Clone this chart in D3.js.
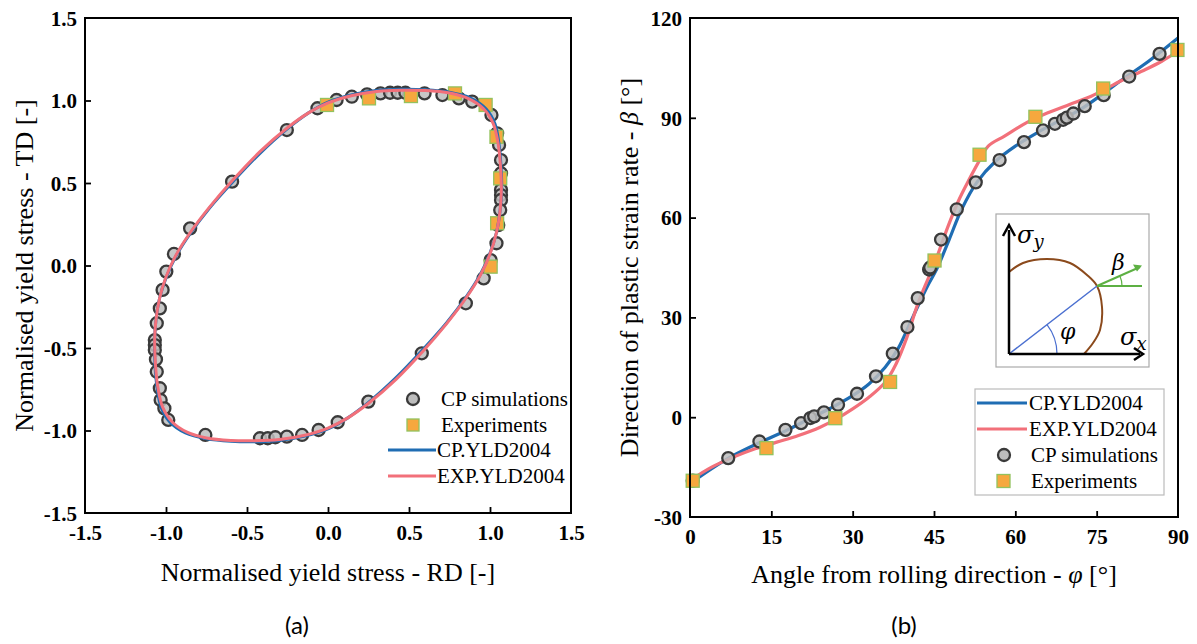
<!DOCTYPE html>
<html><head><meta charset="utf-8">
<script src="https://cdn.jsdelivr.net/npm/d3@7"></script>
<style>body{margin:0;background:#fff}svg{display:block}</style>
</head><body>
<svg id="c" width="1197" height="644"></svg>
<script>
// ---------- Panel (a) data ----------
const aTicks = [-1.5, -1.0, -0.5, 0.0, 0.5, 1.0, 1.5];
const aTickLabels = ["-1.5", "-1.0", "-0.5", "0.0", "0.5", "1.0", "1.5"];
const aCpSimX = [-0.065,0.053,0.147,0.241,0.324,0.383,0.43,0.478,0.596,0.706,0.808,0.89,1.009,1.044,1.056,1.068,1.068,1.068,1.068,1.068,1.063,1.051,1.04,1.004,0.961,0.851,
  -0.254,-0.592,-0.851,-0.951,-0.998,-1.021,-1.038,-1.057,-1.069,-1.069,-1.069,-1.062,-1.057,-1.038,-1.033,-1.01,-0.986,-0.757,-0.42,-0.372,-0.325,-0.254,-0.16,-0.058,0.06,0.249,0.579];
const aCpSimY = [0.953,1.003,1.023,1.037,1.043,1.047,1.047,1.047,1.043,1.033,1.013,0.993,0.912,0.801,0.73,0.639,0.559,0.458,0.427,0.397,0.336,0.245,0.135,0.033,-0.078,-0.229,
  0.821,0.508,0.225,0.07,-0.037,-0.148,-0.26,-0.35,-0.452,-0.482,-0.512,-0.569,-0.644,-0.744,-0.815,-0.866,-0.936,-1.027,-1.047,-1.047,-1.041,-1.037,-1.027,-0.997,-0.95,-0.825,-0.532];
const aExpX = [-0.006,0.253,0.512,0.784,0.973,1.04,1.063,1.044,1.004];
const aExpY = [0.973,1.013,1.027,1.043,0.973,0.78,0.528,0.256,-0.007];
const aCpYldX = [1.072,1.068,1.055,1.03,0.975,0.88,0.75,0.6,0.45,0.3,0.15,0.0,-0.12,-0.25,-0.42,-0.59,-0.73,-0.85,-0.94,-1.0,-1.04,-1.062,-1.07,-1.068,-1.055,-1.03,-0.975,-0.88,-0.75,-0.6,-0.45,-0.3,-0.15,0.0,0.12,0.25,0.42,0.59,0.73,0.85,0.94,1.0,1.04,1.062];
const aCpYldY = [0.45,0.6,0.74,0.86,0.95,1.015,1.05,1.065,1.068,1.06,1.035,0.99,0.925,0.83,0.68,0.505,0.35,0.195,0.055,-0.075,-0.2,-0.33,-0.45,-0.6,-0.74,-0.86,-0.95,-1.015,-1.05,-1.065,-1.068,-1.06,-1.035,-0.99,-0.925,-0.83,-0.68,-0.505,-0.35,-0.195,-0.055,0.075,0.2,0.33];
const aExpYldX = [1.07,1.065,1.05,1.02,0.96,0.87,0.75,0.6,0.45,0.3,0.15,0.0,-0.12,-0.25,-0.42,-0.59,-0.73,-0.85,-0.94,-1.0,-1.04,-1.062,-1.07,-1.065,-1.05,-1.02,-0.96,-0.87,-0.75,-0.6,-0.45,-0.3,-0.15,0.0,0.12,0.25,0.42,0.59,0.73,0.85,0.94,1.0,1.04,1.062];
const aExpYldY = [0.45,0.6,0.74,0.86,0.95,1.01,1.045,1.06,1.062,1.055,1.03,0.985,0.925,0.835,0.69,0.515,0.355,0.2,0.06,-0.07,-0.2,-0.33,-0.45,-0.6,-0.74,-0.86,-0.95,-1.01,-1.045,-1.06,-1.062,-1.055,-1.03,-0.985,-0.925,-0.835,-0.69,-0.515,-0.355,-0.2,-0.06,0.07,0.2,0.33];

// ---------- Panel (b) data ----------
const bXTicks = [0, 15, 30, 45, 60, 75, 90];
const bXTickLabels = ["0", "15", "30", "45", "60", "75", "90"];
const bYTicks = [-30, 0, 30, 60, 90, 120];
const bYTickLabels = ["-30", "0", "30", "60", "90", "120"];
const bCpSimPhi = [0.5,7.05,12.8,17.6,20.5,22.2,22.9,24.7,27.3,30.8,34.3,37.4,40.1,42.0,44.1,44.3,46.3,49.2,52.7,57.1,61.6,65.1,67.3,68.8,69.5,70.7,72.8,76.3,81.0,86.6];
const bCpSimBeta = [-19.1,-12.3,-7.3,-3.8,-1.8,-0.25,0.25,1.45,3.75,7.05,12.3,19.1,27.1,35.8,44.4,45.0,53.4,62.5,70.6,77.3,82.7,86.2,88.2,89.4,90.05,91.3,93.5,96.8,102.4,109.2];
const bExpPhi = [0.5,14.1,26.8,36.9,45.1,53.4,63.7,76.2,89.9];
const bExpBeta = [-19.1,-9.3,-0.3,10.6,47.1,78.9,90.3,98.8,110.4];
const bCpYldPhi = [0,4,8,13,18,22,26,30,33,36,38.5,40.5,42.5,44,45.5,47.8,50.1,52.9,56.4,60,64,68,72,76,80,84,90];
const bCpYldBeta = [-20,-15.5,-11.5,-7.5,-3.8,-0.5,2.8,6.5,10,15,21,28,35,40,44.5,53.4,62.5,70.6,77,81.5,85.5,89,92.5,97,101.8,106.3,114];
const bExpYldPhi = [0,4,8,12,16,20,24,27,30,33,36,38,40,42,44,45.5,47.5,49.5,51.5,53.5,55,58,62,66,70,74,77,80,84,87,90];
const bExpYldBeta = [-19,-15,-12,-9.5,-7.5,-5.5,-3,-0.5,2.5,6,10.5,16,24,34,42,48,57,65,71.5,77.5,81.5,84.5,88.5,91.5,94,96.5,99,101.5,104.5,107,110];

const legendA = ["CP simulations", "Experiments", "CP.YLD2004", "EXP.YLD2004"];
const legendB = ["CP.YLD2004", "EXP.YLD2004", "CP simulations", "Experiments"];

// ---------- styles ----------
const BLUE = "#1f6db3", RED = "#f2707a", SQF = "#f6a83e", SQS = "#93c25e", CF = "#bdbdbd", CS = "#3a3a3a";
const SERIF = "'Liberation Serif','Times New Roman',serif";

const svg = d3.select("#c");

function frame(g, x0, y0, x1, y1) {
  g.append("rect").attr("x", x0).attr("y", y0).attr("width", x1 - x0).attr("height", y1 - y0)
    .attr("fill", "none").attr("stroke", "#000").attr("stroke-width", 2);
}
function styleAxis(sel, isX) {
  sel.attr("font-family", SERIF).attr("font-size", 21).attr("font-weight", "bold");
  sel.select(".domain").remove();
  sel.selectAll(".tick line").attr("stroke", "#000").attr("stroke-width", 1.8);
  sel.selectAll(".tick text").attr("font-family", SERIF).attr("font-weight", "bold")
    .attr("font-size", 21).attr("fill", "#000");
  if (isX) sel.selectAll(".tick text").attr("y", 27).attr("dy", null);
  else sel.selectAll(".tick text").attr("x", -8).attr("dy", "0.35em");
}
function circles(g, xs, ys, x, y) {
  g.append("g").selectAll("circle").data(xs).join("circle")
    .attr("cx", d => x(d)).attr("cy", (d, i) => y(ys[i])).attr("r", 6)
    .attr("fill", CF).attr("fill-opacity", 0.85).attr("stroke", CS).attr("stroke-width", 2.3);
}
function squares(g, xs, ys, x, y) {
  g.append("g").selectAll("rect").data(xs).join("rect")
    .attr("x", d => x(d) - 6.5).attr("y", (d, i) => y(ys[i]) - 6.5).attr("width", 13).attr("height", 13)
    .attr("fill", SQF).attr("stroke", SQS).attr("stroke-width", 1.3);
}

// ================= Panel (a) =================
{
  const L = 85, R = 571, T = 18, B = 513;
  const x = d3.scaleLinear().domain([-1.5, 1.5]).range([L, R]);
  const y = d3.scaleLinear().domain([-1.5, 1.5]).range([B, T]);
  const g = svg.append("g");
  circles(g, aCpSimX, aCpSimY, x, y);
  squares(g, aExpX, aExpY, x, y);
  const lineCp = d3.line().x(d => x(d[0])).y(d => y(d[1])).curve(d3.curveCatmullRomClosed);
  g.append("path").datum(aCpYldX.map((v, i) => [v, aCpYldY[i]])).attr("d", lineCp)
    .attr("fill", "none").attr("stroke", BLUE).attr("stroke-width", 3);
  g.append("path").datum(aExpYldX.map((v, i) => [v, aExpYldY[i]])).attr("d", lineCp)
    .attr("fill", "none").attr("stroke", RED).attr("stroke-width", 3);

  const ax = g.append("g").attr("transform", `translate(0,${B})`)
    .call(d3.axisBottom(x).tickValues(aTicks).tickFormat((d, i) => aTickLabels[i]).tickSizeInner(-6).tickSizeOuter(0));
  styleAxis(ax, true);
  ax.selectAll(".tick").filter((d, i) => i === 0 || i === aTicks.length - 1).select("line").remove();
  const ay = g.append("g").attr("transform", `translate(${L},0)`)
    .call(d3.axisLeft(y).tickValues(aTicks).tickFormat((d, i) => aTickLabels[i]).tickSizeInner(-6).tickSizeOuter(0));
  styleAxis(ay, false);
  ay.selectAll(".tick").filter((d, i) => i === 0 || i === aTicks.length - 1).select("line").remove();
  frame(g, L, T, R, B);

  g.append("text").attr("x", (L + R) / 2).attr("y", 581).attr("text-anchor", "middle")
    .attr("font-family", SERIF).attr("font-size", 26).text("Normalised yield stress - RD [-]");
  g.append("text").attr("transform", `translate(33,${(T + B) / 2}) rotate(-90)`).attr("text-anchor", "middle")
    .attr("font-family", SERIF).attr("font-size", 26).text("Normalised yield stress - TD [-]");

  // legend (no box)
  const lg = g.append("g");
  const rows = [399, 425, 450, 476];
  lg.append("circle").attr("cx", 413).attr("cy", rows[0]).attr("r", 6).attr("fill", CF).attr("stroke", CS).attr("stroke-width", 2.3);
  lg.append("rect").attr("x", 407).attr("y", rows[1] - 6).attr("width", 12).attr("height", 12).attr("fill", SQF).attr("stroke", SQS).attr("stroke-width", 1.3);
  lg.append("line").attr("x1", 388).attr("x2", 436).attr("y1", rows[2]).attr("y2", rows[2]).attr("stroke", BLUE).attr("stroke-width", 3);
  lg.append("line").attr("x1", 388).attr("x2", 436).attr("y1", rows[3]).attr("y2", rows[3]).attr("stroke", RED).attr("stroke-width", 3);
  legendA.forEach((t, i) => {
    lg.append("text").attr("x", i < 2 ? 441 : 437).attr("y", rows[i] + 7).attr("font-family", SERIF)
      .attr("font-size", 21).text(t);
  });
  svg.append("text").attr("x", 297).attr("y", 634).attr("text-anchor", "middle")
    .attr("font-family", "Lato, 'Open Sans', sans-serif").attr("font-size", 24).text("(a)");
}

// ================= Panel (b) =================
{
  const L = 690, R = 1178, T = 18, B = 517;
  const x = d3.scaleLinear().domain([0, 90]).range([L, R]);
  const y = d3.scaleLinear().domain([-30, 120]).range([B, T]);
  const g = svg.append("g");
  const line = d3.line().x(d => x(d[0])).y(d => y(d[1])).curve(d3.curveCatmullRom);
  g.append("path").datum(bCpYldPhi.map((v, i) => [v, bCpYldBeta[i]])).attr("d", line)
    .attr("fill", "none").attr("stroke", BLUE).attr("stroke-width", 3.2);
  g.append("path").datum(bExpYldPhi.map((v, i) => [v, bExpYldBeta[i]])).attr("d", line)
    .attr("fill", "none").attr("stroke", RED).attr("stroke-width", 3.2);
  circles(g, bCpSimPhi, bCpSimBeta, x, y);
  squares(g, bExpPhi, bExpBeta, x, y);

  const ax = g.append("g").attr("transform", `translate(0,${B})`)
    .call(d3.axisBottom(x).tickValues(bXTicks).tickFormat((d, i) => bXTickLabels[i]).tickSizeInner(-6).tickSizeOuter(0));
  styleAxis(ax, true);
  ax.selectAll(".tick").filter((d, i) => i === 0 || i === bXTicks.length - 1).select("line").remove();
  const ay = g.append("g").attr("transform", `translate(${L},0)`)
    .call(d3.axisLeft(y).tickValues(bYTicks).tickFormat((d, i) => bYTickLabels[i]).tickSizeInner(-6).tickSizeOuter(0));
  styleAxis(ay, false);
  ay.selectAll(".tick").filter((d, i) => i === 0 || i === bYTicks.length - 1).select("line").remove();
  frame(g, L, T, R, B);

  const xt = g.append("text").attr("x", (L + R) / 2).attr("y", 583).attr("text-anchor", "middle")
    .attr("font-family", SERIF).attr("font-size", 26);
  xt.append("tspan").text("Angle from rolling direction - ");
  xt.append("tspan").attr("font-style", "italic").text("φ");
  xt.append("tspan").text(" [°]");
  const yt = g.append("text").attr("transform", `translate(638,${(T + B) / 2}) rotate(-90)`).attr("text-anchor", "middle")
    .attr("font-family", SERIF).attr("font-size", 26);
  yt.append("tspan").text("Direction of plastic strain rate - ");
  yt.append("tspan").attr("font-style", "italic").text("β");
  yt.append("tspan").text(" [°]");

  // legend box
  const lg = g.append("g");
  lg.append("rect").attr("x", 975).attr("y", 389).attr("width", 189).attr("height", 106)
    .attr("fill", "#fff").attr("stroke", "#bbb").attr("stroke-width", 1.2);
  const rows = [403, 429, 455, 481];
  lg.append("line").attr("x1", 977).attr("x2", 1027).attr("y1", rows[0]).attr("y2", rows[0]).attr("stroke", BLUE).attr("stroke-width", 3.2);
  lg.append("line").attr("x1", 977).attr("x2", 1027).attr("y1", rows[1]).attr("y2", rows[1]).attr("stroke", RED).attr("stroke-width", 3.2);
  lg.append("circle").attr("cx", 1004).attr("cy", rows[2]).attr("r", 6).attr("fill", CF).attr("stroke", CS).attr("stroke-width", 2.3);
  lg.append("rect").attr("x", 997).attr("y", rows[3] - 6.5).attr("width", 13).attr("height", 13).attr("fill", SQF).attr("stroke", SQS).attr("stroke-width", 1.3);
  legendB.forEach((t, i) => {
    lg.append("text").attr("x", i < 2 ? 1029 : 1031).attr("y", rows[i] + 7).attr("font-family", SERIF)
      .attr("font-size", 21).text(t);
  });

  // inset schematic
  const ins = g.append("g");
  ins.append("rect").attr("x", 996).attr("y", 214).attr("width", 153).attr("height", 153)
    .attr("fill", "#fff").attr("stroke", "#aaa").attr("stroke-width", 1.2);
  const ox = 1009, oy = 354;
  const sx = d3.scaleLinear().domain([0, 1]).range([ox, ox + 100]);
  const sy = d3.scaleLinear().domain([0, 1]).range([oy, oy - 100]);
  const locus = [[0, 0.82], [0.14, 0.91], [0.38, 0.95], [0.61, 0.91], [0.78, 0.79], [0.88, 0.68], [0.93, 0.47], [0.91, 0.24], [0.84, 0.11], [0.75, 0]];
  ins.append("path").datum(locus).attr("d", d3.line().x(d => sx(d[0])).y(d => sy(d[1])).curve(d3.curveCatmullRom))
    .attr("fill", "none").attr("stroke", "#8b4a1c").attr("stroke-width", 2);
  const P = [0.88, 0.68];
  ins.append("line").attr("x1", sx(0)).attr("y1", sy(0)).attr("x2", sx(P[0])).attr("y2", sy(P[1])).attr("stroke", "#4a6fd0").attr("stroke-width", 1.5);
  const phiAng = Math.atan2(P[1], P[0]);
  ins.append("path").attr("transform", `translate(${ox},${oy})`)
    .attr("d", d3.arc()({ innerRadius: 48, outerRadius: 48, startAngle: Math.PI / 2 - phiAng, endAngle: Math.PI / 2 }))
    .attr("fill", "none").attr("stroke", "#4a6fd0").attr("stroke-width", 1.2);
  ins.append("line").attr("x1", sx(P[0])).attr("y1", sy(P[1])).attr("x2", sx(1.33)).attr("y2", sy(P[1])).attr("stroke", "#5db043").attr("stroke-width", 2);
  ins.append("line").attr("x1", sx(P[0])).attr("y1", sy(P[1])).attr("x2", sx(1.31)).attr("y2", sy(0.87)).attr("stroke", "#5db043").attr("stroke-width", 2);
  ins.append("path").attr("d", `M${sx(1.33)},${sy(0.885)} l-9,-1 l4,7 z`).attr("fill", "#5db043");
  ins.append("path").attr("transform", `translate(${sx(P[0])},${sy(P[1])})`)
    .attr("d", d3.arc()({ innerRadius: 25, outerRadius: 25, startAngle: Math.PI / 2 - 0.42, endAngle: Math.PI / 2 }))
    .attr("fill", "none").attr("stroke", "#5db043").attr("stroke-width", 1.2);
  // axes arrows
  ins.append("line").attr("x1", ox).attr("y1", oy).attr("x2", ox).attr("y2", sy(1.24)).attr("stroke", "#000").attr("stroke-width", 2.5);
  ins.append("line").attr("x1", ox).attr("y1", oy).attr("x2", sx(1.31)).attr("y2", oy).attr("stroke", "#000").attr("stroke-width", 2.5);
  ins.append("path").attr("d", `M${ox - 6},${sy(1.18)} L${ox},${sy(1.29)} L${ox + 6},${sy(1.18)}`).attr("fill", "none").attr("stroke", "#000").attr("stroke-width", 2.5);
  ins.append("path").attr("d", `M${sx(1.25)},${oy - 6} L${sx(1.34)},${oy} L${sx(1.25)},${oy + 6}`).attr("fill", "none").attr("stroke", "#000").attr("stroke-width", 2.5);
  const MATH = "'DejaVu Serif','Liberation Serif',serif";
  const t1 = ins.append("text").attr("x", 1017).attr("y", 243).attr("font-family", MATH).attr("font-style", "italic").attr("font-size", 24);
  t1.append("tspan").text("σ"); t1.append("tspan").attr("font-size", 18).attr("dy", 5).text("y");
  const t2 = ins.append("text").attr("x", 1120).attr("y", 345).attr("font-family", MATH).attr("font-style", "italic").attr("font-size", 24);
  t2.append("tspan").text("σ"); t2.append("tspan").attr("font-size", 18).attr("dy", 5).text("x");
  ins.append("text").attr("x", 1112).attr("y", 270).attr("font-family", MATH).attr("font-style", "italic").attr("font-size", 22).text("β");
  ins.append("text").attr("x", 1060).attr("y", 339).attr("font-family", MATH).attr("font-style", "italic").attr("font-size", 22).text("φ");

  svg.append("text").attr("x", 904).attr("y", 634).attr("text-anchor", "middle")
    .attr("font-family", "Lato, 'Open Sans', sans-serif").attr("font-size", 24).text("(b)");
}
</script>
</body></html>
